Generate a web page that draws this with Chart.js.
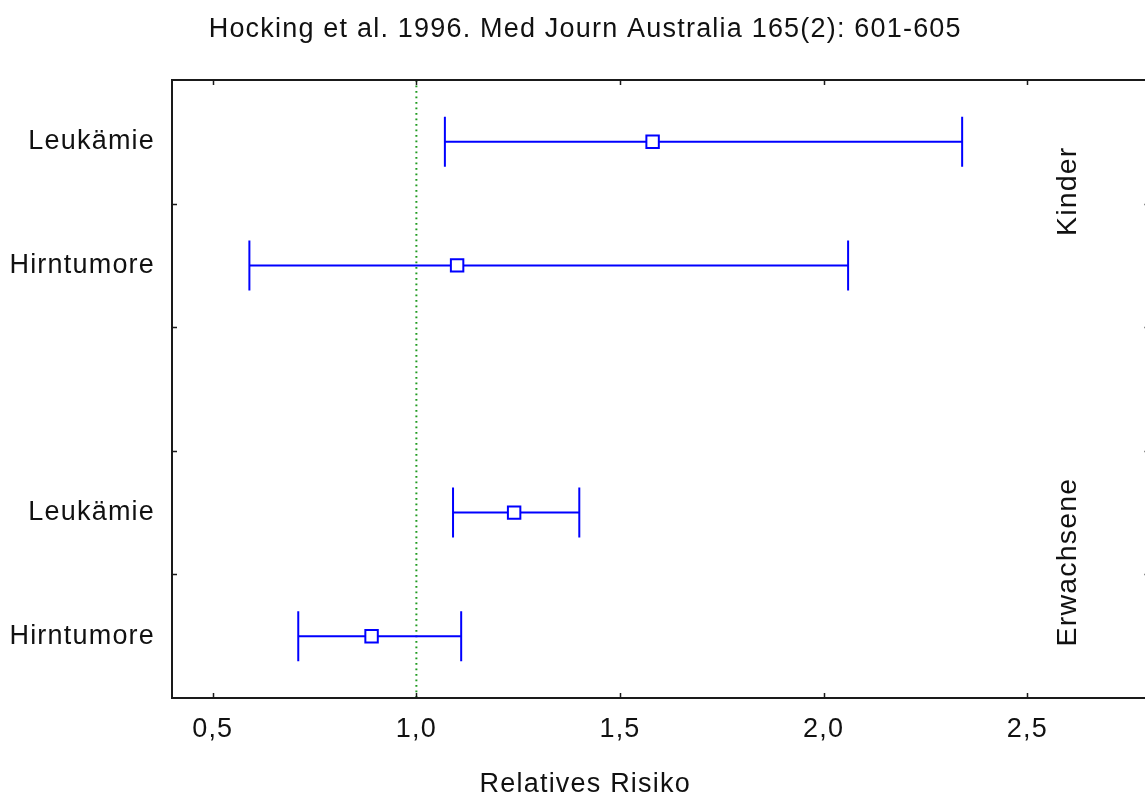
<!DOCTYPE html>
<html>
<head>
<meta charset="utf-8">
<script src="https://cdn.jsdelivr.net/npm/chart.js@4"></script>
<style>
  html, body { margin: 0; padding: 0; background: #fff; overflow: hidden; }
  #wrap { width: 1145px; height: 799px; overflow: hidden; position: relative; }
  canvas { display: block; }
</style>
</head>
<body>
<div id="wrap"><canvas id="forestChart" width="1170" height="799"></canvas></div>
<script>
var groups = ['Kinder', 'Kinder', 'Erwachsene', 'Erwachsene'];
var diseases = ['Leukämie', 'Hirntumore', 'Leukämie', 'Hirntumore'];
var relRisk = [1.58, 1.10, 1.24, 0.89];
var lower = [1.07, 0.59, 1.09, 0.71];
var upper = [2.34, 2.06, 1.40, 1.11];
var xTicks = [0.5, 1.0, 1.5, 2.0, 2.5];
var referenceValue = 1.0;

var FONT = "'Liberation Sans', Arial, sans-serif";
var BLUE = '#0000ff';
var SPACING = '1.2px';

// row positions: one empty slot between the two groups
var rowPos = [];
var slot = 0;
for (var i = 0; i < groups.length; i++) {
    if (i > 0 && groups[i] !== groups[i - 1]) slot++;
    rowPos.push(slot + 0.5);
    slot++;
}
var slotCount = slot;

var datasets = [];

// dotted reference line at RR = 1
datasets.push({
    type: 'line',
    data: [{x: referenceValue, y: 0}, {x: referenceValue, y: slotCount}],
    borderColor: '#1f9a1f',
    borderWidth: 2,
    borderDash: [1.8, 3.7],
    pointRadius: 0,
    order: 5
});

// confidence interval lines
for (var j = 0; j < groups.length; j++) {
    datasets.push({
        type: 'line',
        data: [{x: lower[j], y: rowPos[j]}, {x: upper[j], y: rowPos[j]}],
        borderColor: BLUE,
        borderWidth: 2,
        pointRadius: 0,
        order: 3
    });
}

// whisker caps
datasets.push({
    type: 'scatter',
    data: lower.map(function (v, k) { return {x: v, y: rowPos[k]}; })
        .concat(upper.map(function (v, k) { return {x: v, y: rowPos[k]}; })),
    pointStyle: 'line',
    rotation: 90,
    pointRadius: 25,
    borderColor: BLUE,
    borderWidth: 2,
    order: 2
});

// point estimates
datasets.push({
    type: 'scatter',
    data: relRisk.map(function (v, k) { return {x: v, y: rowPos[k]}; }),
    pointStyle: 'rect',
    pointRadius: 8.8,
    backgroundColor: '#ffffff',
    borderColor: BLUE,
    borderWidth: 2,
    order: 0
});

var spacingPlugin = {
    id: 'spacing',
    beforeUpdate: function (chart) { chart.ctx.letterSpacing = SPACING; },
    afterLayout: function (chart) { chart.scales.y.left = 0; }, // don't clip long row labels
    beforeDraw: function (chart) { chart.ctx.letterSpacing = SPACING; }
};

var framePlugin = {
    id: 'frame',
    afterDraw: function (chart) {
        var c = chart.ctx, a = chart.chartArea;
        var xs = chart.scales.x, ys = chart.scales.y;
        c.save();
        c.strokeStyle = '#1a1a1a';
        c.lineWidth = 2;
        c.strokeRect(a.left, a.top, a.right - a.left, a.bottom - a.top);
        c.lineWidth = 1.5;
        c.beginPath();
        xTicks.forEach(function (v) {
            var px = Math.round(xs.getPixelForValue(v)) + 0.5;
            c.moveTo(px, a.bottom); c.lineTo(px, a.bottom - 5);
            c.moveTo(px, a.top); c.lineTo(px, a.top + 5);
        });
        for (var s = 1; s < slotCount; s++) {
            var py = Math.round(ys.getPixelForValue(s)) + 0.5;
            c.moveTo(a.left, py); c.lineTo(a.left + 5, py);
            c.moveTo(a.right, py); c.lineTo(a.right - 5, py);
        }
        c.stroke();

        // group labels on the right
        c.fillStyle = '#111';
        c.font = '28.5px ' + FONT;
        c.textAlign = 'center';
        c.textBaseline = 'alphabetic';
        var seen = {};
        groups.forEach(function (g) {
            if (seen[g]) return;
            seen[g] = true;
            var rows = rowPos.filter(function (p, m) { return groups[m] === g; });
            var mid = (rows[0] + rows[rows.length - 1]) / 2 - 0.1;
            c.save();
            c.translate(xs.getPixelForValue(2.62), ys.getPixelForValue(mid));
            c.rotate(-Math.PI / 2);
            c.fillText(g, 0, 0);
            c.restore();
        });
        c.restore();
    }
};

var ctx = document.getElementById('forestChart').getContext('2d');
var forestChart = new Chart(ctx, {
    type: 'scatter',
    data: { datasets: datasets },
    options: {
        responsive: false,
        animation: false,
        layout: { autoPadding: false, padding: { left: 21, right: 20.5, top: 0, bottom: 0 } },
        plugins: {
            legend: { display: false },
            tooltip: { enabled: false },
            title: {
                display: true,
                text: 'Hocking et al. 1996. Med Journ Australia 165(2): 601-605',
                color: '#111',
                font: { family: FONT, size: 27, weight: 'normal', lineHeight: 1.2 },
                padding: { top: 13, bottom: 34.6 }
            },
            subtitle: {
                display: true,
                position: 'bottom',
                text: 'Relatives Risiko',
                color: '#111',
                font: { family: FONT, size: 27, weight: 'normal', lineHeight: 1.0 },
                padding: { top: 0, bottom: 0.5 }
            }
        },
        scales: {
            x: {
                type: 'linear',
                min: 0.4,
                max: 2.8,
                grid: { display: false, drawTicks: false },
                border: { display: false },
                afterBuildTicks: function (scale) {
                    scale.ticks = xTicks.map(function (v) { return {value: v}; });
                },
                afterFit: function (scale) {
                    scale.height = 73.5;
                    scale.paddingLeft = 0;
                    scale.paddingRight = 0;
                },
                ticks: {
                    color: '#111',
                    padding: 15,
                    maxRotation: 0,
                    font: { family: FONT, size: 27, lineHeight: 1.2 },
                    callback: function (v) { return v.toFixed(1).replace('.', ','); }
                }
            },
            y: {
                type: 'linear',
                min: 0,
                max: slotCount,
                reverse: true,
                grid: { display: false, drawTicks: false },
                border: { display: false },
                afterBuildTicks: function (scale) {
                    scale.ticks = rowPos.map(function (v) { return {value: v}; });
                },
                afterFit: function (scale) { scale.width = 151; },
                ticks: {
                    color: '#111',
                    padding: 17,
                    font: { family: FONT, size: 27 },
                    callback: function (v, idx) { return diseases[idx]; }
                }
            }
        }
    },
    plugins: [spacingPlugin, framePlugin]
});
</script>
</body>
</html>
